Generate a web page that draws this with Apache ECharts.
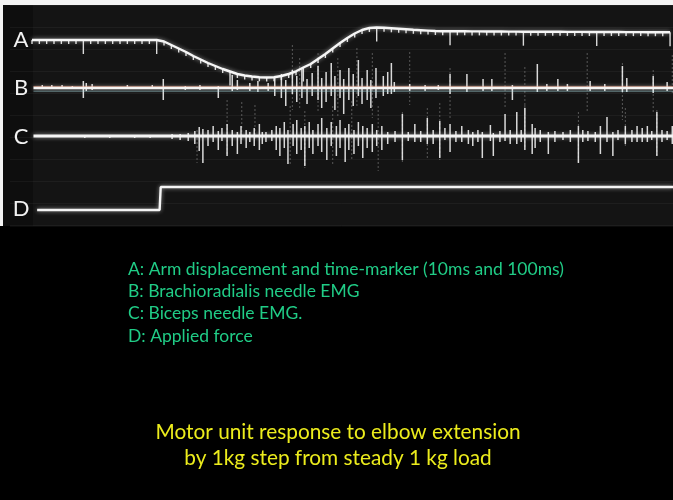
<!DOCTYPE html>
<html>
<head>
<meta charset="utf-8">
<script src="https://cdn.jsdelivr.net/npm/echarts@6/dist/echarts.min.js"></script>
<style>
  html, body { margin: 0; padding: 0; background: #000; }
  #chart { width: 673px; height: 500px; }
</style>
</head>
<body>
<div id="chart"></div>
<script>
// sweep, in ms
const sweepStartMs = 32;
const sweepEndMs = 904;

// A: arm displacement, read at each 10ms time-marker (starts at 30ms)
const markerStartMs = 30;
const markerStepMs = 10;
const armDisp = [
    0, 0, 0, 0, 0, 0, 0, 0, 0, 0, 0, 0, 0, 0, 0, 0, 0, 0,
    -1.5, -5, -8.5, -12, -16, -19.5, -23, -26, -29, -31.5, -34, -35.5, -36.5, -37.3, -37.5, -37.2,
    -36, -34, -31.3, -27.5, -24, -19, -14, -8.5, -3, 2, 6.5, 10, 12, 12.5, 12.2, 11.7, 11.2, 10.7,
    10.2, 9.8, 9.4, 9,
    8.8, 8.8, 8.7, 8.7, 8.6, 8.6, 8.5, 8.5, 8.5, 8.4, 8.4, 8.3, 8.3, 8.3, 8.2, 8.2,
    8.2, 8.1, 8.1, 8.1, 8.0, 8.0, 8.0, 8.0, 8.0, 7.9, 7.9, 7.9, 7.8, 7.8, 7.8, 7.8
];
const longMarksMs = [100, 200, 300, 400, 500, 600, 700, 800, 900];

// B: brachioradialis EMG spikes [ms, up, down]
const brachioSpikes = [
    [44, 3, 1], [57, 3, 1], [71, 3, 1], [85, 2, 1], [100, 7, 10], [104, 5, 3], [112, 4, 2], [160, 3, 1],
    [194, 3, 1], [209, 9, 12], [239, 2, 2], [259, 3, 2], [284, 2, 10], [303, 13, 3], [310, 8, 2],
    [327, 5, 3], [338, 7, 4], [352, 5, 3], [361, 10, 8], [370, 14, 10], [376, 8, 18], [385, 18, 6],
    [391, 12, 14], [398, 20, 10], [405, 9, 16], [412, 15, 8], [420, 22, 12], [425, 10, 20], [431, 16, 14],
    [438, 25, 8], [443, 12, 22], [450, 18, 10], [455, 9, 26], [462, 20, 12], [468, 14, 18], [475, 28, 8],
    [480, 10, 16], [487, 18, 12], [492, 8, 20], [499, 20, 10], [509, 12, 8], [515, 16, 6], [520, 25, 6],
    [524, 6, 4], [545, 4, 3], [566, 3, 3], [584, 3, 2], [600, 14, 6], [623, 14, 4], [645, 9, 3],
    [657, 9, 3], [685, 3, 12], [719, 24, 4], [732, 4, 3], [747, 9, 3], [760, 4, 3], [791, 7, 3],
    [811, 4, 3], [835, 22, 4], [841, 10, 4], [877, 12, 5], [896, 6, 3]
];
// faint fast-beam streaks [ms, up, down]
const brachioStreaks = [
    [385, 43, 22], [395, 30, 20], [420, 35, 25], [447, 30, 28], [473, 40, 20], [494, 35, 30],
    [545, 36, 17], [600, 20, 32], [675, 35, 20], [702, 21, 27], [787, 35, 24], [835, 25, 32],
    [877, 18, 25], [903, 33, 5]
];

// C: biceps EMG spikes [ms, up, down]
const bicepsSpikes = [
    [102, 0, 2], [136, 0, 2], [170, 0, 2], [191, 0, 2], [221, 2, 3], [232, 2, 4], [243, 3, 5], [252, 5, 8],
    [258, 9, 15], [263, 7, 27], [270, 6, 10], [277, 10, 6], [284, 5, 14], [289, 8, 5], [296, 12, 20],
    [303, 6, 10], [310, 4, 18], [315, 10, 8], [322, 6, 12], [327, 4, 6], [333, 8, 10], [340, 12, 14],
    [344, 4, 8], [349, 4, 6], [357, 6, 5], [363, 10, 14], [368, 8, 20], [374, 14, 12], [379, 6, 28],
    [386, 12, 10], [391, 16, 18], [397, 8, 14], [402, 10, 30], [408, 14, 12], [413, 6, 18], [420, 12, 10],
    [425, 18, 16], [432, 8, 24], [438, 14, 10], [445, 10, 20], [450, 16, 12], [457, 8, 26], [462, 12, 14],
    [469, 6, 18], [475, 14, 10], [481, 10, 22], [487, 8, 12], [494, 12, 16], [500, 6, 10], [507, 10, 14],
    [515, 4, 8], [525, 5, 6], [535, 22, 24], [543, 4, 5], [552, 12, 6], [560, 5, 6], [569, 18, 8],
    [577, 6, 8], [586, 15, 22], [593, 8, 4], [600, 12, 16], [608, 5, 6], [616, 10, 6], [625, 6, 8],
    [631, 4, 10], [638, 6, 6], [644, 4, 22], [655, 11, 5], [659, 3, 20], [668, 5, 6], [675, 22, 5],
    [682, 6, 8], [691, 24, 8], [697, 6, 6], [702, 28, 14], [712, 12, 18], [716, 8, 12], [723, 6, 6],
    [734, 4, 18], [743, 5, 6], [754, 4, 4], [764, 6, 6], [775, 10, 27], [781, 6, 6], [788, 5, 5],
    [798, 4, 6], [805, 10, 18], [814, 19, 6], [822, 4, 20], [829, 6, 4], [839, 10, 8], [848, 6, 6],
    [855, 10, 6], [862, 8, 6], [869, 10, 6], [875, 5, 4], [882, 24, 20], [889, 6, 6], [896, 5, 4], [903, 10, 8]
];
const bicepsStreaks = [
    [255, 6, 27], [296, 36, 19], [316, 34, 5], [334, 31, 4], [382, 30, 30], [402, 25, 32], [440, 30, 28],
    [466, 35, 25], [502, 30, 35], [535, 24, 26], [569, 28, 22], [586, 33, 24], [702, 31, 12], [775, 24, 26],
    [839, 28, 12], [882, 26, 19]
];

// D: applied force (kg)
const forceTimes = [37, 204, 205.5, 904];
const forceKg = [1, 1, 2, 2];

const traceLabels = ['A', 'B', 'C', 'D'];
const legendLines = [
    'A: Arm displacement and time-marker (10ms and 100ms)',
    'B: Brachioradialis needle EMG',
    'C: Biceps needle EMG.',
    'D: Applied force'
];
const captionLines = [
    'Motor unit response to elbow extension',
    'by 1kg step from steady 1 kg load'
];

// layout of the traces on the screen (y units = px from scope top)
const rowA = 35, rowB = 83, rowC = 131, rowD = 205;
const forceGain = 23;
const labelY = [40, 88, 137, 209];

const glow = { shadowBlur: 4, shadowColor: 'rgba(255,255,255,0.55)' };

const spikeSeries = (data, row, style) => ({
    type: 'custom',
    silent: true,
    animation: false,
    z: 3,
    encode: { x: 0, y: 1 },
    data: data,
    renderItem: (params, api) => {
        const t = api.value(0);
        const p1 = api.coord([t, row - api.value(1)]);
        const p2 = api.coord([t, row + api.value(2)]);
        return {
            type: 'line',
            shape: { x1: p1[0], y1: p1[1], x2: p2[0], y2: p2[1] },
            style: style
        };
    }
});

const baseline = (row, color, width, extra) => ({
    type: 'line',
    silent: true,
    animation: false,
    showSymbol: false,
    z: 4,
    data: [[sweepStartMs, row], [sweepEndMs, row]],
    lineStyle: Object.assign({ color: color, width: width }, extra || {})
});

const armData = armDisp.map((d, i) => [markerStartMs + i * markerStepMs, rowA - d]);

const chart = echarts.init(document.getElementById('chart'));

const option = {
    backgroundColor: '#000',
    animation: false,
    grid: { left: 10, right: 0, top: 5, height: 221 },
    xAxis: {
        type: 'value', min: 0, max: 904,
        show: false
    },
    yAxis: {
        type: 'value', min: 0, max: 221, interval: 22, inverse: true,
        axisLine: { show: false }, axisTick: { show: false }, axisLabel: { show: false },
        splitLine: { show: true, lineStyle: { color: 'rgba(255,255,255,0.045)', width: 1 } }
    },
    graphic: [
        { type: 'rect', z: -5, shape: { x: 0, y: 0, width: 673, height: 5 }, style: { fill: '#f4f4f4' } },
        { type: 'rect', z: -5, shape: { x: 0, y: 0, width: 3, height: 226 }, style: { fill: '#f4f4f4' } },
        { type: 'rect', z: -5, shape: { x: 3, y: 5, width: 670, height: 221 }, style: { fill: '#141414' } },
        { type: 'rect', z: -4, shape: { x: 3, y: 5, width: 30, height: 221 }, style: { fill: '#0e0e0e' } },
        ...traceLabels.map((s, i) => ({
            type: 'text', z: 20, x: 21, y: labelY[i],
            style: {
                text: s, fill: '#f2f2f2', font: '400 22px Lato',
                align: 'center', verticalAlign: 'middle'
            }
        })),
        ...legendLines.map((s, i) => ({
            type: 'text', z: 20, x: 128, y: 269 + i * 22.3,
            style: {
                text: s, fill: '#20cc86', font: '400 17.5px Lato',
                align: 'left', verticalAlign: 'middle'
            }
        })),
        ...captionLines.map((s, i) => ({
            type: 'text', z: 20, x: 338, y: 432 + i * 26,
            style: {
                text: s, fill: '#ecec1c', font: '400 20.8px Lato',
                align: 'center', verticalAlign: 'middle'
            }
        }))
    ],
    series: [
        // faint streaks
        spikeSeries(brachioStreaks, rowB, { stroke: 'rgba(230,230,230,0.32)', lineWidth: 1, lineDash: [2, 2] }),
        spikeSeries(bicepsStreaks, rowC, { stroke: 'rgba(230,230,230,0.32)', lineWidth: 1, lineDash: [2, 2] }),
        // B trace with colour fringes
        baseline(rowB - 1.6, 'rgba(255,140,100,0.6)', 1),
        baseline(rowB + 3.2, 'rgba(160,220,230,0.5)', 1),
        baseline(rowB, '#f4f4f4', 2.4, glow),
        spikeSeries(brachioSpikes, rowB, { stroke: 'rgba(245,245,245,0.88)', lineWidth: 1.5 }),
        // C trace
        baseline(rowC, '#f4f4f4', 2.8, glow),
        spikeSeries(bicepsSpikes, rowC, { stroke: 'rgba(245,245,245,0.88)', lineWidth: 1.5 }),
        // A: displacement + time-markers
        {
            type: 'line', silent: true, animation: false, showSymbol: false, z: 5,
            data: armData,
            lineStyle: Object.assign({ color: '#f6f6f6', width: 2.4 }, glow)
        },
        {
            type: 'custom', silent: true, animation: false, z: 5,
            encode: { x: 0, y: 1 },
            data: armData,
            renderItem: (params, api) => {
                const t = api.value(0);
                const p = api.coord([t, api.value(1)]);
                const len = longMarksMs.indexOf(t) >= 0 ? 14 : 4;
                return {
                    type: 'line',
                    shape: { x1: p[0], y1: p[1], x2: p[0], y2: p[1] + len },
                    style: { stroke: 'rgba(240,240,240,0.9)', lineWidth: 1.4 }
                };
            }
        },
        // D: applied force
        {
            type: 'line', silent: true, animation: false, showSymbol: false, z: 5,
            data: forceTimes.map((t, i) => [t, rowD - forceGain * (forceKg[i] - 1)]),
            lineStyle: Object.assign({ color: '#f4f4f4', width: 2.4 }, glow)
        }
    ]
};

chart.setOption(option);
</script>
</body>
</html>
